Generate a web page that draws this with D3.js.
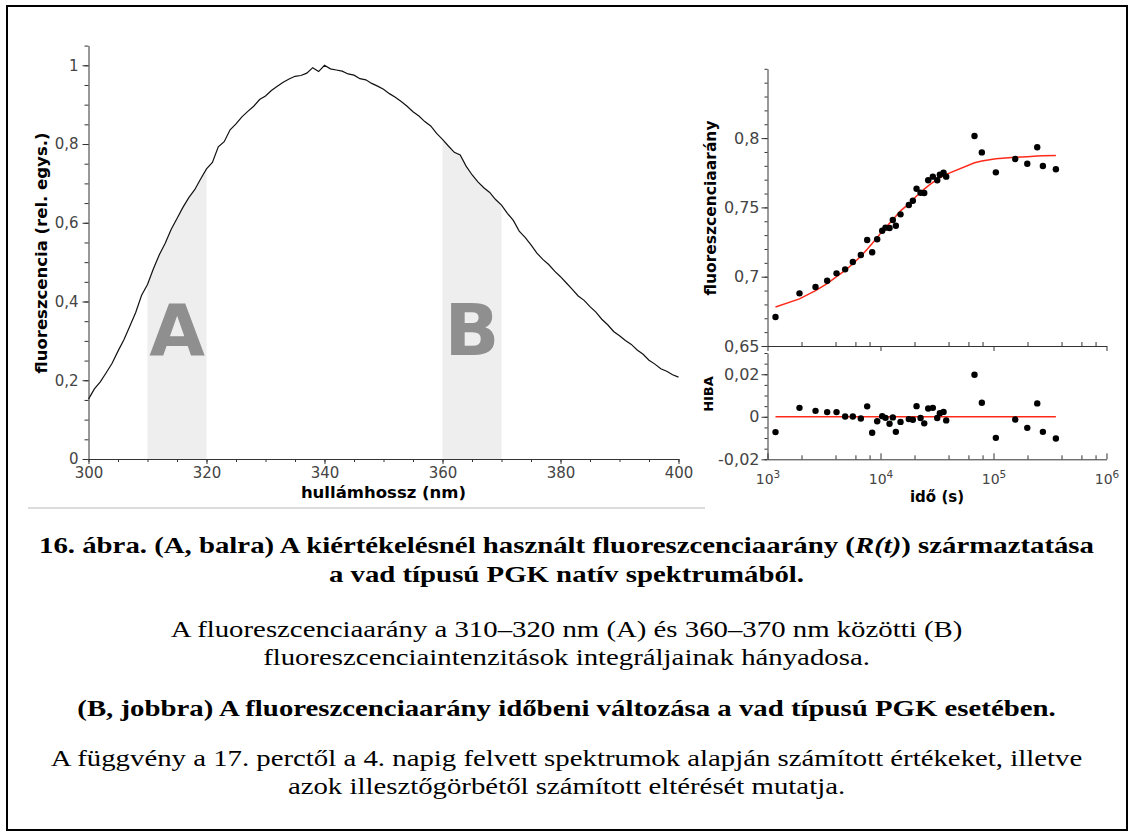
<!DOCTYPE html>
<html><head><meta charset="utf-8">
<script src="https://cdn.jsdelivr.net/npm/d3@7"></script>
<style>body{margin:0;background:#fff} svg{display:block}</style>
</head><body><svg id="c" width="1133" height="836"></svg>
<script>
// ---------- data: spectrum (left panel) ----------
const wavelengthNm = [300,301,302,303,304,305,306,307,308,309,310,311,312,313,314,315,316,317,318,319,320,
 321,322,323,324,325,326,327,328,329,330,331,332,333,334,335,336,337,338,339,340,
 341,342,343,344,345,346,347,348,349,350,351,352,353,354,355,356,357,358,359,360,
 361,362,363,364,365,366,367,368,369,370,371,372,373,374,375,376,377,378,379,380,
 381,382,383,384,385,386,387,388,389,390,391,392,393,394,395,396,397,398,399,400];
const intensity = [0.152,0.178,0.196,0.219,0.243,0.274,0.303,0.337,0.372,0.416,0.443,0.483,0.519,0.548,0.583,0.611,0.639,0.664,0.684,0.711,0.737,
 0.753,0.793,0.806,0.836,0.851,0.869,0.883,0.896,0.913,0.922,0.936,0.947,0.957,0.965,0.972,0.974,0.980,0.994,0.984,1.0,
 0.991,0.988,0.985,0.978,0.975,0.966,0.963,0.954,0.947,0.939,0.928,0.919,0.908,0.896,0.882,0.871,0.857,0.846,0.827,0.812,
 0.795,0.779,0.772,0.744,0.722,0.704,0.689,0.677,0.659,0.645,0.624,0.606,0.579,0.563,0.544,0.523,0.507,0.494,0.477,0.463,
 0.447,0.431,0.414,0.403,0.387,0.373,0.355,0.341,0.324,0.313,0.301,0.291,0.277,0.266,0.251,0.241,0.229,0.223,0.214,0.208];
const bandA = [310, 320];
const bandB = [360, 370];
const bandLabels = ["A", "B"];
const spectrumXTicks = [300, 320, 340, 360, 380, 400];
const spectrumYTicks = [0, 0.2, 0.4, 0.6, 0.8, 1];

// ---------- data: ratio vs time (right panels) ----------
const timeS = [1177,1919,2661,3373,4083,4867,5690,6700,7623,8440,9348,10353,11075,12021,12853,13671,15040,17810,
 19330,20850,22620,24380,26430,29050,31770,33520,36130,38140,67900,78860,104900,155900,199000,243800,273600,356500];
const ratioR = [0.6709,0.6880,0.6926,0.6971,0.7024,0.7053,0.7106,0.7157,0.7265,0.7176,0.7270,0.7332,0.7354,0.7351,0.7409,0.7368,0.7450,0.7517,
 0.7548,0.7635,0.7606,0.7604,0.7696,0.7722,0.7696,0.7736,0.7750,0.7722,0.8015,0.7897,0.7753,0.7849,0.7815,0.7934,0.7799,0.7775];
const fitR = [0.6781,0.6840,0.6899,0.6950,0.7000,0.7045,0.7093,0.7148,0.7198,0.7240,0.7283,0.7327,0.7355,0.7385,0.7410,0.7437,0.7475,0.7525,
 0.7555,0.7582,0.7608,0.7632,0.7655,0.7680,0.7700,0.7714,0.7727,0.7738,0.7822,0.7834,0.7851,0.7862,0.7866,0.7870,0.7872,0.7874];
const residual = [-0.0072,0.0042,0.0028,0.0022,0.0022,0.0001,0.0001,-0.0008,0.0049,-0.0075,-0.0021,0.0003,-0.0005,-0.0033,-0.0003,-0.0071,-0.0024,-0.0011,
 -0.0014,0.0050,-0.0006,-0.0031,0.0039,0.0042,-0.0006,0.0017,0.0023,-0.0017,0.0198,0.0066,-0.0099,-0.0013,-0.0052,0.0063,-0.0071,-0.0102];
const ratioYTicks = [0.65, 0.7, 0.75, 0.8];
const residYTicks = [-0.02, 0, 0.02];
const timeDecades = [1e3, 1e4, 1e5, 1e6];
const timeMinor = [2e3,4e3,6e3,8e3,2e4,4e4,6e4,8e4,2e5,4e5,6e5,8e5];

// ---------- captions ----------
const captionLines = [
  {parts:[["16. ábra. (A, balra) A kiértékelésnél használt fluoreszcenciaarány (",""],["R(t)","italic"],[") származtatása",""]], bold:true},
  {parts:[["a vad típusú PGK natív spektrumából.",""]], bold:true},
  {parts:[["A fluoreszcenciaarány a 310–320 nm (A) és 360–370 nm közötti (B)",""]], bold:false},
  {parts:[["fluoreszcenciaintenzitások integráljainak hányadosa.",""]], bold:false},
  {parts:[["(B, jobbra) A fluoreszcenciaarány időbeni változása a vad típusú PGK esetében.",""]], bold:true},
  {parts:[["A függvény a 17. perctől a 4. napig felvett spektrumok alapján számított értékeket, illetve",""]], bold:false},
  {parts:[["azok illesztőgörbétől számított eltérését mutatja.",""]], bold:false}
];

const svg = d3.select("#c");
const comma = d => String(d).replace(".", ",");
const axisCol = "#333", labCol = "#444";
const sans = "DejaVu Sans";

// outer frame
svg.append("rect").attr("x",7).attr("y",6).attr("width",1120).attr("height",824)
  .attr("fill","none").attr("stroke","#000").attr("stroke-width",2);
svg.append("line").attr("x1",28).attr("x2",705).attr("y1",508).attr("y2",508)
  .attr("stroke","#d0d0d0").attr("stroke-width",1.5);

function styleAxis(g, size){
  g.selectAll("path,line").attr("stroke", axisCol).attr("stroke-width", 1);
  g.selectAll("text").attr("fill", labCol).style("font-family", sans).style("font-size", size + "px");
}

// ---------- left panel ----------
const xL = d3.scaleLinear().domain([300, 400]).range([88.5, 678.5]);
const yL = d3.scaleLinear().domain([0, 1.05]).range([459, 45.6]);
const spec = wavelengthNm.map((w, i) => ({w, v: intensity[i]}));
const area = d3.area().x(d => xL(d.w)).y0(yL(0)).y1(d => yL(d.v));
[bandA, bandB].forEach((b, k) => {
  svg.append("path").datum(spec.filter(d => d.w >= b[0] && d.w <= b[1]))
    .attr("d", area).attr("fill", "#eeeeee");
  svg.append("text").attr("x", xL((b[0] + b[1]) / 2)).attr("y", 355)
    .attr("text-anchor","middle").style("font-family", sans).style("font-weight","bold")
    .style("font-size","72px").attr("fill","#8f8f8f").text(bandLabels[k]);
});
svg.append("path").datum(spec).attr("d", d3.line().x(d => xL(d.w)).y(d => yL(d.v)))
  .attr("fill","none").attr("stroke","#111").attr("stroke-width",1.2);

const gLy = svg.append("g").attr("transform","translate(88.5,0)");
gLy.append("g").call(d3.axisLeft(yL).tickValues(d3.range(0, 1.051, 0.05)).tickSize(4).tickSizeOuter(0).tickFormat(""))
  .call(g => g.select(".domain").remove());
gLy.append("g").call(d3.axisLeft(yL).tickValues(spectrumYTicks).tickSize(6).tickPadding(4).tickSizeOuter(0).tickFormat(comma));
styleAxis(gLy, 15);
const gLx = svg.append("g").attr("transform","translate(0,459)");
gLx.append("g").call(d3.axisBottom(xL).tickValues(d3.range(300, 401, 5)).tickSize(3).tickSizeOuter(0).tickFormat(""))
  .call(g => g.select(".domain").remove());
gLx.append("g").call(d3.axisBottom(xL).tickValues(spectrumXTicks).tickSize(5).tickPadding(3).tickSizeOuter(0).tickFormat(d => d));
styleAxis(gLx, 15);

svg.append("text").attr("x", 383.5).attr("y", 498).attr("text-anchor","middle")
  .style("font-family", sans).style("font-weight","bold").style("font-size","16.5px").text("hullámhossz (nm)");
svg.append("text").attr("transform","translate(47,253) rotate(-90)").attr("text-anchor","middle")
  .style("font-family", sans).style("font-weight","bold").style("font-size","16.5px").text("fluoreszcencia (rel. egys.)");

// ---------- right panels ----------
const xR = d3.scaleLog().domain([1e3, 1e6]).range([767.5, 1106.5]);
const yT = d3.scaleLinear().domain([0.65, 0.85]).range([346, 68.8]);
const yB = d3.scaleLinear().domain([-0.02, 0.03]).range([459.3, 353]);
const pts = timeS.map((t, i) => ({t, r: ratioR[i], f: fitR[i], e: residual[i]}));

// top y axis
const gTy = svg.append("g").attr("transform","translate(767.5,0)");
gTy.append("g").call(d3.axisLeft(yT).tickValues(d3.range(0.65, 0.8501, 0.01)).tickSize(3).tickSizeOuter(0).tickFormat(""))
  .call(g => g.select(".domain").remove());
gTy.append("g").call(d3.axisLeft(yT).tickValues(ratioYTicks).tickSize(6).tickPadding(2).tickSizeOuter(0).tickFormat(comma));
styleAxis(gTy, 16);
// top x axis (no labels)
const gTx = svg.append("g").attr("transform","translate(0,346)");
gTx.append("g").call(d3.axisBottom(xR).tickValues(timeMinor).tickSize(-4).tickSizeOuter(0).tickFormat(""))
  .call(g => g.select(".domain").remove());
gTx.append("g").call(d3.axisBottom(xR).tickValues(timeDecades).tickSize(5).tickSizeOuter(0).tickFormat(""));
styleAxis(gTx, 15);

// bottom y axis
const gBy = svg.append("g").attr("transform","translate(767.5,0)");
gBy.append("g").call(d3.axisLeft(yB).tickValues(d3.range(-0.02, 0.0301, 0.005)).tickSize(3).tickSizeOuter(0).tickFormat(""))
  .call(g => g.select(".domain").remove());
gBy.append("g").call(d3.axisLeft(yB).tickValues(residYTicks).tickSize(6).tickPadding(2).tickSizeOuter(0).tickFormat(comma));
styleAxis(gBy, 16);
// bottom x axis
const gBx = svg.append("g").attr("transform","translate(0,459.3)");
gBx.append("g").call(d3.axisBottom(xR).tickValues(timeMinor).tickSize(-4).tickSizeOuter(0).tickFormat(""))
  .call(g => g.select(".domain").remove());
const majB = gBx.append("g").call(d3.axisBottom(xR).tickValues(timeDecades).tickSize(-6).tickSizeOuter(0).tickFormat(""));
styleAxis(gBx, 15);
majB.selectAll(".tick").append("text").attr("y", 24.5).attr("text-anchor","middle")
  .attr("fill", labCol).style("font-family", sans).style("font-size","14px")
  .each(function(d){
    const t = d3.select(this);
    t.append("tspan").text("10");
    t.append("tspan").attr("dy", -6).style("font-size","10.5px").text(Math.round(Math.log10(d)));
  });

// fit line + dots (top)
svg.append("path").datum(pts).attr("d", d3.line().x(d => xR(d.t)).y(d => yT(d.f)))
  .attr("fill","none").attr("stroke","#ff2a1a").attr("stroke-width",1.5);
svg.append("g").selectAll("circle").data(pts).join("circle")
  .attr("cx", d => xR(d.t)).attr("cy", d => yT(d.r)).attr("r", 3.2).attr("fill","#000");
// residuals (bottom)
svg.append("path").datum([pts[0], pts[pts.length - 1]]).attr("d", d3.line().x(d => xR(d.t)).y(() => yB(0)))
  .attr("fill","none").attr("stroke","#ff2a1a").attr("stroke-width",1.5);
svg.append("g").selectAll("circle").data(pts).join("circle")
  .attr("cx", d => xR(d.t)).attr("cy", d => yB(d.e)).attr("r", 3.2).attr("fill","#000");

svg.append("text").attr("transform","translate(716,208) rotate(-90)").attr("text-anchor","middle")
  .style("font-family", sans).style("font-weight","bold").style("font-size","15.5px").text("fluoreszcenciaarány");
svg.append("text").attr("transform","translate(712.5,394) rotate(-90)").attr("text-anchor","middle")
  .style("font-family", sans).style("font-weight","bold").style("font-size","13px").text("HIBA");
svg.append("text").attr("x", 937).attr("y", 502).attr("text-anchor","middle")
  .style("font-family", sans).style("font-weight","bold").style("font-size","15px").text("idő (s)");

// ---------- captions (Times-like, slightly widened to match the original's line widths) ----------
const capY = [553, 582, 637, 665, 716, 766, 794];
captionLines.forEach((ln, i) => {
  const t = svg.append("text").attr("transform", `translate(566.5,${capY[i]}) scale(1.2,1)`)
    .attr("x", 0).attr("y", 0).attr("text-anchor","middle")
    .style("font-family","Liberation Serif").style("font-size","24px")
    .style("font-weight", ln.bold ? "bold" : "normal").attr("fill","#000");
  ln.parts.forEach(p => {
    const s = t.append("tspan").text(p[0]);
    if (p[1] === "italic") s.style("font-style","italic");
  });
});
</script></body></html>
